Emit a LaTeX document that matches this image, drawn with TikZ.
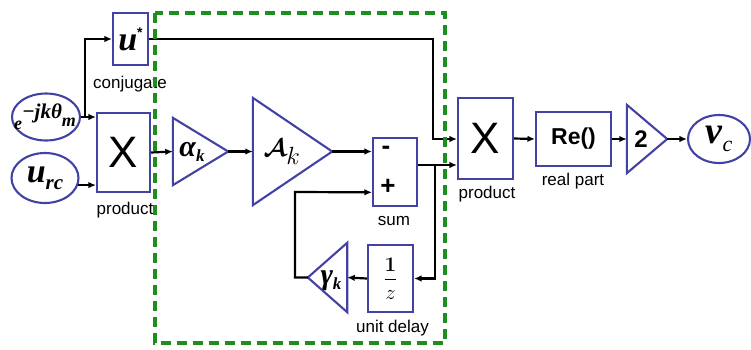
\documentclass[tikz,border=0pt]{standalone}
\usepackage{amsmath}
\usepackage{fontspec}
\setmainfont{Liberation Sans}
\newfontfamily\tms{Liberation Serif}
\usetikzlibrary{arrows.meta,calc,shapes.geometric}
\definecolor{bl}{RGB}{66,66,165}
\definecolor{gr}{RGB}{30,140,30}
\newcommand{\fsz}[1]{\fontsize{#1}{#1}\selectfont}
\newcommand{\bi}{\tms\bfseries\itshape}
\begin{document}
\begin{tikzpicture}[x=1pt,y=-1pt,
  box/.style={draw=bl,line width=2.1pt,rectangle,inner sep=0pt},
  ell/.style={draw=bl,line width=2.1pt,ellipse,inner sep=0pt},
  tribox/.style={rectangle,inner sep=0pt},
  triline/.style={draw=bl,line width=2.1pt,line join=miter},
  wire/.style={line width=2.2pt,-{Latex[length=7.5pt,width=6.5pt]}},
  lab/.style={font=\fsz{17},inner sep=0pt},
  txt/.style={inner sep=0pt},
]
\useasboundingbox (0,0) rectangle (751,349);
% blocks
\node[box,minimum width=35,minimum height=52] (cj) at (130.5,39) {{\bi\fsz{34}u}\raisebox{13pt}{\bfseries\fsz{14}*}};
\node[lab] (cjl) at (130,84) {conjugate};
\node[ell,minimum width=68,minimum height=47] (e) at (46,117) {};
\node[txt] (et) at (45,117) {\bi\fsz{18}\raisebox{-2pt}{e}\raisebox{9pt}{\fsz{21}−jkθ}\raisebox{1pt}{m}};
\node[ell,minimum width=67,minimum height=50] (urc) at (45,178) {{\bi\fsz{34}u}\raisebox{-7pt}{\bi\fsz{21}rc}};
\node[box,minimum width=53,minimum height=79] (p1) at (123.5,152.5) {\fsz{44}X};
\node[lab] (p1l) at (125,210) {product};
\node[tribox,minimum width=55,minimum height=67] (al) at (200.5,151.5) {};
\node[txt] (alt) at (192,152) {{\bi\fsz{30}α}\raisebox{-5pt}{\bi\fsz{17}k}};
\node[tribox,minimum width=79,minimum height=107] (ak) at (292.5,151.5) {};
\node[txt] (akt) at (282,152) {\fsz{36}$\boldsymbol{\mathcal{A}}_{k}$};
\node[box,minimum width=44,minimum height=68] (sum) at (395,172) {};
\node[txt] (sm) at (386,150) {\bfseries\fsz{26}-};
\node[txt] (sp) at (388,187) {\bfseries\fsz{26}+};
\node[lab] (suml) at (394,221) {sum};
\node[box,minimum width=45,minimum height=67] (dl) at (390.5,278.5) {\fsz{22}$\displaystyle\frac{\boldsymbol{1}}{z}$};
\node[lab] (dll) at (392.5,328) {unit delay};
\node[tribox,minimum width=39,minimum height=69] (g) at (327.5,277.5) {};
\node[txt] (gt) at (331,281) {{\bi\fsz{30}γ}\raisebox{-5pt}{\bi\fsz{17}k}};
\node[box,minimum width=55,minimum height=81] (p2) at (485.5,138.5) {\fsz{44}X};
\node[lab] (p2l) at (487,194) {product};
\node[box,minimum width=75,minimum height=54] (re) at (573.5,139) {\bfseries\fsz{23}Re()};
\node[lab] (rel) at (573,181) {real part};
\node[tribox,minimum width=40,minimum height=68] (two) at (647,139) {};
\node[txt] (twot) at (641,139) {\bfseries\fsz{24}2};
\node[ell,minimum width=62,minimum height=48] (vc) at (719,139) {{\bi\fsz{38}v}\raisebox{-8pt}{\tms\itshape\fsz{22}c}};
% triangles
\draw[triline] (al.north west) -- (al.east) -- (al.south west) -- cycle;
\draw[triline] (ak.north west) -- (ak.east) -- (ak.south west) -- cycle;
\draw[triline] (two.north west) -- (two.east) -- (two.south west) -- cycle;
\draw[triline] (g.north east) -- (g.west) -- (g.south east) -- cycle;
% helper coordinates
\coordinate (b1) at (85,118);
\coordinate (so) at ($(sum.north east)!0.4!(sum.south east)$);
\coordinate (sin) at ($(sum.north west)!0.79!(sum.south west)$);
\coordinate (b2) at (435,165);
\coordinate (b3) at (433,139);
\coordinate (fb) at (295,192);
% connectors
\draw[wire] (e.east) -- (e.east -| p1.west);
\draw[wire] (b1) |- (cj.west);
\draw[wire] (urc.-12) -- (urc.-12 -| p1.west);
\draw[wire] (p1.east) -- (al.west);
\draw[wire] (al.east) -- (ak.west);
\draw[wire] (ak.east) -- (ak.east -| sum.west);
\draw[wire] (so) -- (so -| p2.west);
\draw[wire] (b2) |- (dl.east);
\draw[wire] (dl.west) -- (g.east);
\draw[wire] (g.west) -| (fb) -- (sin);
\draw[wire] (cj.east) -| (b3) -- (b3 -| p2.west);
\draw[wire] (p2.east) -- (re.west);
\draw[wire] (re.east) -- (two.west);
\draw[wire] (two.east) -- (vc.west);
% dashed group
\draw[gr,line width=3.2pt,dash pattern=on 10pt off 6pt] (155,13) rectangle (445,343);
\end{tikzpicture}
\end{document}
